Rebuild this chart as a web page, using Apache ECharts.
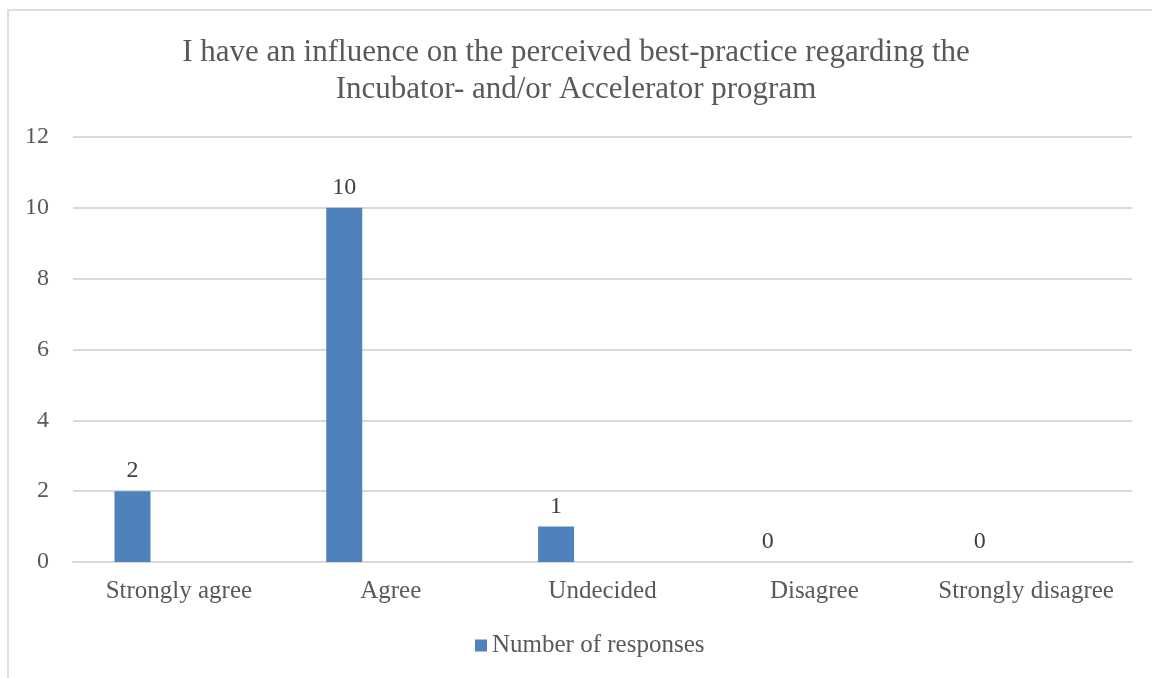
<!DOCTYPE html>
<html>
<head>
<meta charset="utf-8">
<script src="https://cdn.jsdelivr.net/npm/echarts@6/dist/echarts.min.js"></script>
<style>
  html, body { margin: 0; padding: 0; background: #fff; }
  #frame { position: absolute; left: 7px; top: 9px; width: 1152px; height: 680px;
           border: 2px solid #dedede; box-sizing: border-box; }
  #chart { position: absolute; left: 0; top: 0; width: 1152px; height: 678px; }
</style>
</head>
<body>
<div id="frame"></div>
<div id="chart"></div>
<script>
// Survey answers and how many respondents picked each
const categories = ['Strongly agree', 'Agree', 'Undecided', 'Disagree', 'Strongly disagree'];
const responses = [2, 10, 1, 0, 0];
const seriesName = 'Number of responses';
const titleText = 'I have an influence on the perceived best-practice regarding the\nIncubator- and/or Accelerator program';

const textColor = '#595959';
const serif = '"Liberation Serif", "Times New Roman", serif';

const chart = echarts.init(document.getElementById('chart'), null, { renderer: 'canvas' });
chart.setOption({
  backgroundColor: 'transparent',
  animation: false,
  title: {
    text: titleText,
    left: 'center',
    top: 29,
    textStyle: { fontFamily: serif, fontSize: 31, fontWeight: 'normal', color: textColor, lineHeight: 37 }
  },
  legend: {
    data: [seriesName],
    bottom: 15,
    left: 470,
    itemWidth: 12,
    itemHeight: 12,
    itemGap: 4,
    icon: 'rect',
    textStyle: { fontFamily: serif, fontSize: 25, color: textColor }
  },
  grid: { left: 73, right: 20, top: 137, bottom: 116 },
  xAxis: {
    type: 'category',
    data: categories,
    axisLine: { lineStyle: { color: '#d9d9d9', width: 2 } },
    axisTick: { show: false },
    axisLabel: { interval: 0, fontFamily: serif, fontSize: 25, color: textColor, margin: 17 }
  },
  yAxis: {
    type: 'value',
    min: 0,
    max: 12,
    interval: 2,
    axisLine: { show: false },
    axisTick: { show: false },
    splitLine: { lineStyle: { color: '#d9d9d9', width: 2 } },
    axisLabel: { fontFamily: serif, fontSize: 24, color: textColor, margin: 24 }
  },
  series: [
    {
      name: seriesName,
      type: 'bar',
      data: responses,
      barWidth: 36,
      barGap: '158%',
      itemStyle: { color: '#4f81bd' },
      label: {
        show: true,
        position: 'top',
        distance: 8,
        fontFamily: serif,
        fontSize: 24,
        color: '#404040'
      }
    },
    {
      // empty companion series keeps the bars to the left of each category slot
      name: 'spacer',
      type: 'bar',
      data: categories.map(() => null),
      barWidth: 36,
      itemStyle: { color: 'transparent' }
    }
  ]
});
</script>
</body>
</html>
